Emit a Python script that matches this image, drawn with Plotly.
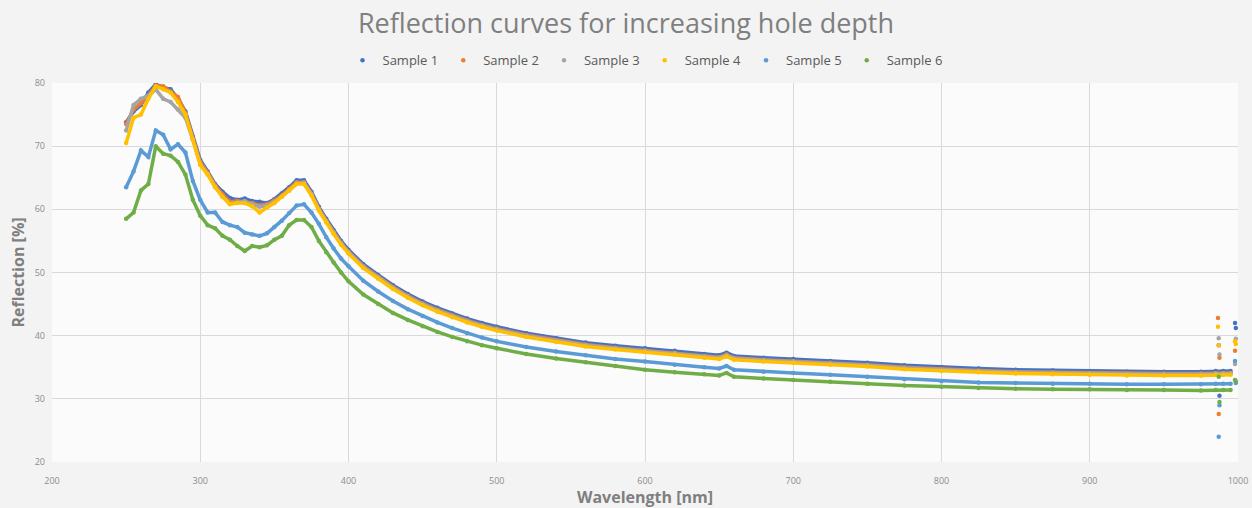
import plotly.graph_objects as go

# Wavelength grid of the measured spectra [nm]
wavelength = [250, 255, 260, 265, 270, 275, 280, 285, 290, 295, 300, 305, 310, 315, 320,
              325, 330, 335, 340, 345, 350, 355, 360, 365, 370, 375, 380, 385, 390, 395,
              400, 410, 420, 430, 440, 450, 460, 470, 480, 490, 500, 520, 540, 560, 580,
              600, 620, 640, 650, 655, 660, 680, 700, 725, 750, 775, 800, 825, 850, 875,
              900, 925, 950, 975, 985, 990, 995]

sample1 = [73.8, 75.5, 76.5, 78.5, 79.8, 79.3, 79.0, 77.5, 75.5, 71.5, 67.8, 66.0, 64.0, 62.8, 61.8,
           61.5, 61.7, 61.3, 61.2, 61.0, 61.6, 62.5, 63.5, 64.6, 64.6, 62.8, 60.4, 58.5, 56.7, 55.0,
           53.6, 51.3, 49.6, 48.0, 46.6, 45.4, 44.4, 43.5, 42.7, 42.0, 41.4, 40.4, 39.6, 38.9, 38.4,
           38.0, 37.6, 37.1, 36.9, 37.3, 36.8, 36.5, 36.3, 36.0, 35.7, 35.3, 35.0, 34.8, 34.6, 34.5,
           34.4, 34.3, 34.3, 34.3, 34.4, 34.4, 34.4]
sample2 = [73.5, 75.8, 76.8, 78.0, 79.6, 79.5, 78.6, 77.8, 75.2, 71.2, 67.5, 65.8, 63.8, 62.4, 61.2,
           61.3, 61.2, 61.0, 60.6, 60.8, 61.4, 62.2, 63.2, 64.3, 64.3, 62.5, 60.1, 58.2, 56.4, 54.7,
           53.3, 51.0, 49.3, 47.7, 46.3, 45.1, 44.1, 43.2, 42.4, 41.7, 41.1, 40.1, 39.3, 38.6, 38.1,
           37.7, 37.3, 36.8, 36.6, 37.0, 36.5, 36.2, 36.0, 35.7, 35.4, 35.0, 34.7, 34.5, 34.3, 34.2,
           34.1, 34.0, 34.0, 34.0, 34.1, 34.1, 34.1]
sample3 = [72.5, 76.5, 77.5, 78.0, 79.0, 77.5, 77.0, 75.8, 74.5, 71.0, 67.2, 65.6, 63.6, 62.0, 60.9,
           61.1, 61.3, 60.8, 60.4, 60.6, 61.2, 62.0, 63.0, 64.1, 64.2, 62.4, 60.0, 58.1, 56.3, 54.6,
           53.2, 50.9, 49.2, 47.6, 46.2, 45.0, 44.0, 43.1, 42.3, 41.6, 41.0, 40.0, 39.2, 38.5, 38.0,
           37.6, 37.2, 36.7, 36.5, 36.9, 36.4, 36.1, 35.9, 35.6, 35.3, 34.9, 34.6, 34.4, 34.2, 34.1,
           34.0, 33.9, 33.9, 33.9, 34.0, 34.0, 34.0]
sample4 = [70.5, 74.5, 75.0, 77.5, 79.5, 79.0, 78.5, 77.0, 75.0, 71.0, 67.0, 65.5, 63.5, 62.0, 60.8,
           61.0, 61.0, 60.5, 59.5, 60.3, 61.0, 62.0, 63.0, 64.0, 64.0, 62.2, 59.8, 57.9, 56.1, 54.4,
           53.0, 50.7, 49.0, 47.4, 46.0, 44.8, 43.8, 42.9, 42.1, 41.4, 40.8, 39.8, 39.0, 38.3, 37.8,
           37.4, 37.0, 36.5, 36.3, 36.7, 36.2, 35.9, 35.7, 35.4, 35.1, 34.7, 34.4, 34.2, 34.0, 33.9,
           33.8, 33.7, 33.7, 33.7, 33.8, 33.8, 33.8]
sample5 = [63.5, 66.0, 69.3, 68.3, 72.5, 71.8, 69.5, 70.3, 69.0, 64.5, 61.5, 59.5, 59.5, 58.0, 57.5,
           57.2, 56.3, 56.0, 55.8, 56.2, 57.2, 58.2, 59.4, 60.6, 60.8, 59.5, 57.7, 55.6, 53.8, 52.2,
           51.0, 48.7, 47.0, 45.5, 44.2, 43.1, 42.1, 41.2, 40.4, 39.7, 39.1, 38.2, 37.5, 36.9, 36.3,
           35.9, 35.4, 35.0, 34.8, 35.2, 34.6, 34.3, 34.1, 33.8, 33.5, 33.1, 32.8, 32.6, 32.5, 32.4,
           32.4, 32.3, 32.3, 32.3, 32.4, 32.4, 32.4]
sample6 = [58.5, 59.5, 63.0, 64.0, 70.0, 68.8, 68.5, 67.5, 65.5, 61.5, 59.0, 57.5, 57.0, 55.8, 55.2,
           54.2, 53.4, 54.2, 54.0, 54.3, 55.2, 55.8, 57.5, 58.3, 58.3, 57.2, 55.0, 53.2, 51.6, 50.0,
           48.6, 46.5, 45.0, 43.6, 42.5, 41.5, 40.6, 39.8, 39.1, 38.5, 38.0, 37.1, 36.4, 35.8, 35.2,
           34.6, 34.2, 33.9, 33.7, 34.1, 33.5, 33.2, 33.0, 32.7, 32.4, 32.1, 31.9, 31.7, 31.6, 31.5,
           31.5, 31.4, 31.4, 31.3, 31.4, 31.4, 31.4]

# Detector-edge readings near 1000 nm (scattered, not joined)
edge_wl = [986.5, 987.0, 987.5, 998.0, 998.5]
edge1 = [None, 38.5, 30.5, 42.0, 41.2]
edge2 = [42.8, 27.6, 36.5, 37.6, None]
edge3 = [None, 39.6, 37.0, 35.5, 39.5]
edge4 = [41.4, 38.5, None, 39.1, 38.7]
edge5 = [None, 24.0, 29.0, 36.0, 32.5]
edge6 = [None, 33.5, 29.5, 33.0, 32.8]

names = ["Sample 1", "Sample 2", "Sample 3", "Sample 4", "Sample 5", "Sample 6"]
colors = ["#4472C4", "#ED7D31", "#A5A5A5", "#FFC000", "#5B9BD5", "#70AD47"]
series = [sample1, sample2, sample3, sample4, sample5, sample6]
edges = [edge1, edge2, edge3, edge4, edge5, edge6]

fig = go.Figure()
for name, col, vals, edge in zip(names, colors, series, edges):
    # dense band of the measured curve
    fig.add_trace(go.Scatter(x=wavelength, y=vals, mode="lines", legendgroup=name,
                             showlegend=False, hoverinfo="skip",
                             line=dict(color=col, width=3.5)))
    # individual readings, including the scattered edge points
    fig.add_trace(go.Scatter(x=wavelength + edge_wl, y=vals + edge,
                             mode="markers", name=name, legendgroup=name,
                             marker=dict(color=col, size=4.5)))

grid = "#d9d9d9"
tickfont = dict(family="Open Sans", size=9, color="#8c8c8c")
fig.update_layout(
    width=1252, height=508,
    margin=dict(l=52, r=14, t=83, b=46),
    paper_bgcolor="#f3f3f3",
    plot_bgcolor="#fbfbfb",
    title=dict(text="Reflection curves for increasing hole depth", x=0.5, xanchor="center",
               y=0.953, yanchor="middle",
               font=dict(family="Open Sans", size=27, color="#7f7f7f")),
    legend=dict(orientation="h", x=0.5, xanchor="center", y=1.06, yanchor="middle",
                font=dict(family="Open Sans", size=13, color="#595959"),
                bgcolor="rgba(0,0,0,0)", itemwidth=30, tracegroupgap=0),
    xaxis=dict(range=[200, 1000], dtick=100, tick0=200, showgrid=True, gridcolor=grid,
               zeroline=False, showline=False, ticks="", tickfont=tickfont,
               ticklabelstandoff=12, automargin=False,
               title=dict(text="<b>Wavelength [nm]</b>", standoff=4,
                          font=dict(family="Open Sans", size=16, color="#7f7f7f"))),
    yaxis=dict(range=[20, 80], dtick=10, showgrid=True, gridcolor=grid,
               zeroline=False, showline=False, ticks="", tickfont=tickfont,
               ticklabelstandoff=6, automargin=False,
               title=dict(text="<b>Reflection [%]</b>", standoff=6,
                          font=dict(family="Open Sans", size=16, color="#7f7f7f"))),
)
fig.write_html("out.html")
